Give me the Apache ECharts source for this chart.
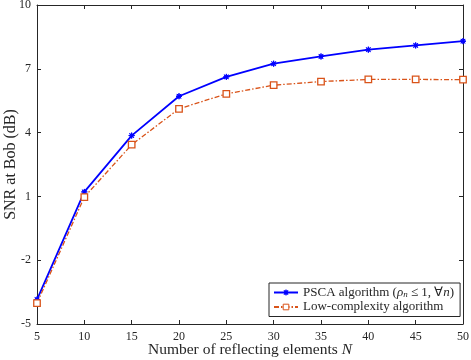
<!DOCTYPE html>
<html><head><meta charset="utf-8">
<script src="https://cdn.jsdelivr.net/npm/echarts@6/dist/echarts.min.js"></script>
<style>html,body{margin:0;padding:0;background:#fff}#c{width:471px;height:360px}</style>
</head><body><div id="c"></div>
<script>
var categories = [5, 10, 15, 20, 25, 30, 35, 40, 45, 50];
var pscaValues = [-3.85, 1.21, 3.86, 5.71, 6.62, 7.24, 7.58, 7.9, 8.1, 8.3];
var lowValues = [-4.02, 0.97, 3.43, 5.12, 5.82, 6.23, 6.4, 6.5, 6.5, 6.49];
var yTicks = [-5, -2, 1, 4, 7, 10];
var xTicks = [5, 10, 15, 20, 25, 30, 35, 40, 45, 50];

var FONT = 'Liberation Serif';
var axisCol = '#262626';
// 8-spoke asterisk
function asterisk() {
  var p = [];
  for (var i = 0; i < 16; i++) {
    var a = Math.PI * i / 8;
    var r = (i % 2 === 0) ? 1 : 0.35;
    p.push((r * Math.cos(a)).toFixed(3) + ',' + (r * Math.sin(a)).toFixed(3));
  }
  return 'path://M' + p.join(' L') + ' Z';
}
var chart = echarts.init(document.getElementById('c'));
function pairs(vals) { return categories.map(function (c, i) { return [c, vals[i]]; }); }
chart.setOption({
  animation: false,
  textStyle: { fontFamily: FONT },
  grid: { left: 37, right: 8, top: 5, bottom: 36, containLabel: false, outerBoundsMode: 'none' },
  xAxis: [{
    type: 'value', min: 5, max: 50, interval: 5,
    axisLine: { onZero: false, lineStyle: { color: axisCol, width: 1 } },
    axisTick: { inside: true, length: 4, lineStyle: { color: axisCol } },
    axisLabel: { color: '#262626', fontSize: 12, fontFamily: FONT, margin: 7,
      customValues: xTicks },
    splitLine: { show: false },
    name: '{a|Number of reflecting elements }{i|N}',
    nameLocation: 'middle', nameGap: 18, nameMoveOverlap: false,
    nameTextStyle: { rich: {
      a: { fontSize: 15.5, fontFamily: FONT, color: '#262626' },
      i: { fontSize: 15.5, fontFamily: FONT, fontStyle: 'italic', color: '#262626' } } }
  }, {
    type: 'value', min: 5, max: 50, interval: 5, position: 'top',
    axisLine: { show: true, onZero: false, lineStyle: { color: axisCol } },
    axisTick: { inside: true, length: 4, lineStyle: { color: axisCol } },
    axisLabel: { show: false }, splitLine: { show: false }
  }],
  yAxis: [{
    type: 'value', min: -5, max: 10,
    axisLine: { show: true, onZero: false, lineStyle: { color: axisCol, width: 1 } },
    axisTick: { inside: true, length: 4, customValues: yTicks, lineStyle: { color: axisCol } },
    axisLabel: { color: '#262626', fontSize: 12, fontFamily: FONT, margin: 6, customValues: yTicks },
    splitLine: { show: false },
    name: 'SNR at Bob (dB)', nameLocation: 'middle', nameGap: 18, nameRotate: 90, nameMoveOverlap: false,
    nameTextStyle: { fontSize: 16, fontFamily: FONT, color: '#262626' }
  }, {
    type: 'value', min: -5, max: 10, position: 'right',
    axisLine: { show: true, onZero: false, lineStyle: { color: axisCol } },
    axisTick: { inside: true, length: 4, customValues: yTicks, lineStyle: { color: axisCol } },
    axisLabel: { show: false }, splitLine: { show: false }
  }],
  legend: {
    left: 269, top: 283, orient: 'vertical',
    backgroundColor: '#fff', borderColor: '#262626', borderWidth: 1, borderRadius: 0,
    padding: [3, 6, 3, 4], itemGap: 1, itemWidth: 24, itemHeight: 7,
    itemStyle: { borderWidth: 1 },
    textStyle: { fontSize: 13, fontFamily: FONT, color: '#262626',
      rich: {
        a: { fontSize: 13, fontFamily: FONT, color: '#262626' },
        i: { fontSize: 13, fontFamily: FONT, fontStyle: 'italic', color: '#262626' },
        s: { fontSize: 9, fontFamily: FONT, fontStyle: 'italic', color: '#262626', padding: [5, 0, 0, 0] }
      } },
    formatter: function (name) {
      if (name.indexOf('PSCA') === 0) {
        return '{a|PSCA algorithm (}{i|ρ}{s|n}{a| ≤ 1, ∀}{i|n}{a|)}';
      }
      return '{a|' + name + '}';
    },
    data: ['PSCA algorithm', 'Low-complexity algorithm']
  },
  series: [{
    name: 'PSCA algorithm', type: 'line', data: pairs(pscaValues),
    xAxisIndex: 0, yAxisIndex: 0,
    lineStyle: { color: '#0000ff', width: 1.8 },
    itemStyle: { color: '#0000ff', borderColor: '#0000ff', borderWidth: 1 },
    symbol: asterisk(), symbolSize: 6, showAllSymbol: true
  }, {
    name: 'Low-complexity algorithm', type: 'line', data: pairs(lowValues),
    xAxisIndex: 0, yAxisIndex: 0,
    lineStyle: { color: '#d95319', width: 1.3, type: [5, 2, 1.5, 2] },
    itemStyle: { color: '#ffffff', borderColor: '#d95319', borderWidth: 1.3 },
    symbol: 'rect', symbolSize: 6.5, showAllSymbol: true
  }]
});
</script>
</body></html>
